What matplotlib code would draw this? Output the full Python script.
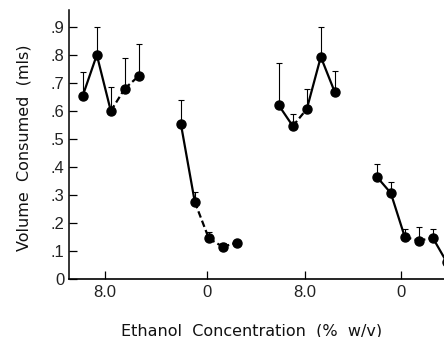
import numpy as np
import matplotlib
matplotlib.use("Agg")
import matplotlib.pyplot as plt

plt.rcParams['font.family'] = ['DejaVu Sans']

# Four series of points (x = position along the axis)
x1 = [1, 2, 3, 4, 5]
y1 = [0.655, 0.80, 0.60, 0.68, 0.725]
top1 = [0.74, 0.90, 0.686, 0.79, 0.84]
ls1 = ['-', '-', '--', '--']

x2 = [8, 9, 10, 11, 12]
y2 = [0.555, 0.275, 0.145, 0.115, 0.13]
top2 = [0.64, 0.31, 0.168, 0.13, 0.13]
ls2 = ['-', '--', '--', '--']

x3 = [15, 16, 17, 18, 19]
y3 = [0.62, 0.546, 0.607, 0.793, 0.667]
top3 = [0.77, 0.59, 0.68, 0.90, 0.743]
ls3 = ['-', '--', '-', '-']

x4 = [22, 23, 24, 25, 26, 27]
y4 = [0.365, 0.307, 0.15, 0.137, 0.147, 0.06]
top4 = [0.41, 0.346, 0.18, 0.187, 0.18, 0.06]
ls4 = ['-', '-', '--', '--', '-']

tick_pos = [2.57, 9.86, 16.86, 23.7]
tick_labels = ['8.0', '0', '8.0', '0']
ytick_vals = [0, 0.1, 0.2, 0.3, 0.4, 0.5, 0.6, 0.7, 0.8, 0.9]
ytick_labels = ['0', '.1', '.2', '.3', '.4', '.5', '.6', '.7', '.8', '.9']

tick_font = ['Liberation Sans Narrow', 'Liberation Sans', 'DejaVu Sans']

fig = plt.figure(figsize=(4.44, 3.37), dpi=100)
ax = fig.add_axes([0.155, 0.172, 0.845, 0.798])

for xs, ys, tops, styles in [(x1, y1, top1, ls1), (x2, y2, top2, ls2),
                             (x3, y3, top3, ls3), (x4, y4, top4, ls4)]:
    for i, st in enumerate(styles):
        ax.plot(xs[i:i + 2], ys[i:i + 2], color='black', lw=1.6, ls=st,
                dashes=(3, 1.5) if st == '--' else (None, None))
    up = np.array(tops) - np.array(ys)
    ax.errorbar(xs, ys, yerr=[np.zeros(len(ys)), up], fmt='o', color='black',
                ms=6.5, elinewidth=0.8, capsize=2, capthick=0.8)

ax.set_xlim(0, 26.8)
ax.set_ylim(0, 0.96)
ax.set_yticks(ytick_vals)
ax.set_yticklabels(ytick_labels, fontsize=12, family=tick_font, color='#222222')
ax.set_xticks(tick_pos)
ax.set_xticklabels(tick_labels, fontsize=12, family=tick_font, color='#222222')
ax.tick_params(direction='in', length=6, width=0.9)
ax.tick_params(axis='y', pad=3)
ax.tick_params(axis='x', pad=4)
ax.spines['top'].set_visible(False)
ax.spines['right'].set_visible(False)
ax.spines['left'].set_linewidth(1.1)
ax.spines['bottom'].set_linewidth(1.2)

fig.text(24 / 444, 1 - 148 / 337, 'Volume  Consumed  (mls)', rotation=90,
         ha='center', va='center', fontsize=11.5, color='#111111')
fig.text(252 / 444, 1.5 / 337, 'Ethanol  Concentration  (%  w/v)',
         ha='center', va='baseline', fontsize=11.5, color='#111111')

fig.savefig('out.png', dpi=100)
